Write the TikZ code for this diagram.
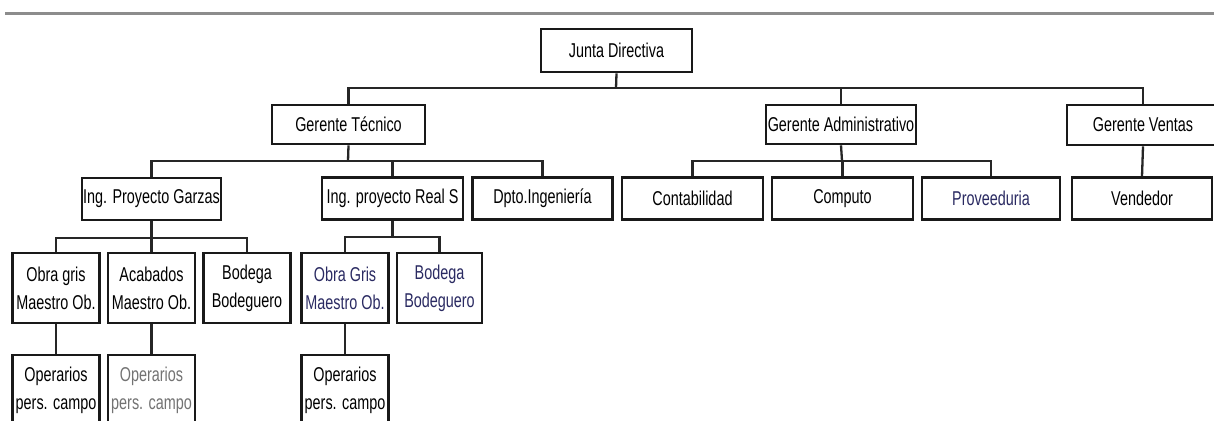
\documentclass[tikz,border=0pt]{standalone}
\usepackage{fontspec}
\setmainfont{Liberation Sans}[FakeStretch=0.72]
\definecolor{navy}{HTML}{2A2A62}
\definecolor{topline}{HTML}{8C8C8C}
\tikzset{
  orgbox/.style={draw=black!90, line width=2.6pt, fill=white, inner sep=0pt,
    font=\fontsize{20}{28}\selectfont, align=center},
  wide/.style={orgbox, minimum width=141pt, minimum height=42pt},
  small/.style={orgbox, minimum width=87pt, minimum height=70pt},
  link/.style={draw=black!85, line width=2.3pt},
}
\begin{document}
\begin{tikzpicture}[x=1pt,y=1pt]
\useasboundingbox (0,0) rectangle (1214,-420);
\clip (0,0) rectangle (1214,-420);
\fill[white] (0,0) rectangle (1214,-420);
% gray rule at top
\draw[topline, line width=3pt] (5,-14) -- (1214,-14);

% level 0
\node[orgbox, minimum width=151pt, minimum height=43pt] (junta) at (616.5,-50.5) {Junta Directiva};
% level 1
\node[orgbox, minimum width=153pt, minimum height=39pt] (gt) at (348.5,-124.5) {Gerente Técnico};
\node[orgbox, minimum width=150pt, minimum height=39pt] (ga) at (841,-124.5) {Gerente Administrativo};
\node[orgbox, minimum width=152pt, minimum height=40pt] (gv) at (1143,-125) {Gerente Ventas};
% level 2
\node[wide, minimum width=139pt] (garzas) at (151.5,-199) {Ing. Proyecto Garzas};
\node[wide] (reals) at (392.5,-198.5) {Ing. proyecto Real S};
\node[wide, minimum width=140pt] (dpto) at (542.5,-198.5) {Dpto.Ingeniería};
\node[wide] (conta) at (692.5,-198.5) {Contabilidad};
\node[wide] (computo) at (842.5,-198.5) {Computo};
\node[wide, minimum width=138pt, text=navy] (prov) at (991,-198.5) {Proveeduria};
\node[wide, minimum width=140pt] (vend) at (1142,-198.5) {Vendedor};
% level 3
\node[small] (obra1) at (56,-288) {Obra gris\\Maestro Ob.};
\node[small] (acab) at (151.5,-288) {Acabados\\Maestro Ob.};
\node[small] (bod1) at (247,-288) {Bodega\\Bodeguero};
\node[small, text=navy] (obra2) at (345,-288) {Obra Gris\\Maestro Ob.};
\node[small, minimum width=85pt, text=navy] (bod2) at (439.5,-288) {Bodega\\Bodeguero};
% level 4
\node[small] (oper1) at (56,-390) {Operarios\\pers. campo};
\node[small, text=black!55] (oper2) at (151.5,-390) {Operarios\\pers. campo};
\node[small] (oper3) at (345,-390) {Operarios\\pers. campo};

% connectors
\coordinate (jbar) at (616,-88);
\draw[link] (junta.south) -- (jbar);
\draw[link] (jbar) -| (gt.north);
\draw[link] (jbar) -| (ga.north);
\draw[link] (jbar) -| (gv.north);

\coordinate (gtbar) at (348,-161);
\draw[link] (gt.south) -- (gtbar);
\draw[link] (gtbar) -| (garzas.north);
\draw[link] (gtbar) -| (reals.north);
\draw[link] (gtbar) -| (dpto.north);

\coordinate (gabar) at (842,-161);
\draw[link] (ga.south) -- (gabar);
\draw[link] (gabar) -| (conta.north);
\draw[link] (gabar) -| (computo.north);
\draw[link] (gabar) -| (prov.north);

\draw[link] (gv.south) -- (vend.north);

\coordinate (gzbar) at (151.5,-238);
\draw[link] (garzas.south) -- (gzbar);
\draw[link] (gzbar) -| (obra1.north);
\draw[link] (gzbar) -| (acab.north);
\draw[link] (gzbar) -| (bod1.north);

\coordinate (rsbar) at (392.5,-237);
\draw[link] (reals.south) -- (rsbar);
\draw[link] (rsbar) -| (obra2.north);
\draw[link] (rsbar) -| (bod2.north);

\draw[link] (obra1.south) -- (oper1.north);
\draw[link] (acab.south) -- (oper2.north);
\draw[link] (obra2.south) -- (oper3.north);
\end{tikzpicture}
\end{document}
